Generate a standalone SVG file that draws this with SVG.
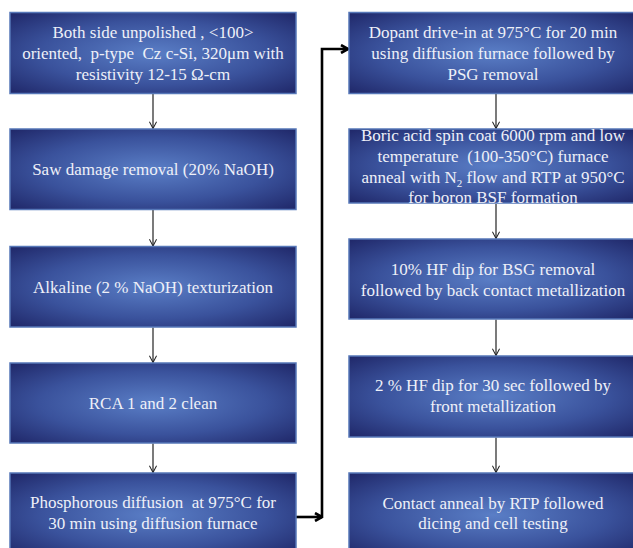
<svg xmlns="http://www.w3.org/2000/svg" width="633" height="548" viewBox="0 0 633 548">
<defs>
<radialGradient id="g" cx="0.5" cy="0.5" r="0.72">
<stop offset="0" stop-color="#5a7ec6"/>
<stop offset="0.55" stop-color="#3a529c"/>
<stop offset="1" stop-color="#1e2566"/>
</radialGradient>
<marker id="a" viewBox="0 0 10 10" refX="9.5" refY="5" markerWidth="8" markerHeight="8" markerUnits="userSpaceOnUse" orient="auto">
<path d="M1,0.5 L9.5,5 L1,9.5" fill="none" stroke="#222" stroke-width="1.3"/>
</marker>
<marker id="b" viewBox="0 0 10 10" refX="9" refY="5" markerWidth="10" markerHeight="10" markerUnits="userSpaceOnUse" orient="auto">
<path d="M2,1 L9,5 L2,9" fill="none" stroke="#000" stroke-width="2.6"/>
</marker>
</defs>
<style>
.box{fill:url(#g);stroke:#5677b8;stroke-width:1.5}
.t{font-family:"Liberation Serif","Times New Roman",serif;font-size:17px;fill:#eef0f8;text-anchor:middle}
.c{fill:none;stroke:#222;stroke-width:1.2}
.k{fill:none;stroke:#000;stroke-width:2.6}
</style>
<rect width="633" height="548" fill="#fff"/>
<g id="connectors">
<line class="c" x1="153" y1="94" x2="153" y2="128.5" marker-end="url(#a)"/>
<line class="c" x1="153" y1="210" x2="153" y2="246" marker-end="url(#a)"/>
<line class="c" x1="153" y1="327.5" x2="153" y2="362.5" marker-end="url(#a)"/>
<line class="c" x1="153" y1="443.5" x2="153" y2="472.5" marker-end="url(#a)"/>
<line class="c" x1="496" y1="94" x2="496" y2="128.5" marker-end="url(#a)"/>
<line class="c" x1="496" y1="204" x2="496" y2="238.5" marker-end="url(#a)"/>
<line class="c" x1="496" y1="319.5" x2="496" y2="355.5" marker-end="url(#a)"/>
<line class="c" x1="496" y1="437.5" x2="496" y2="472.5" marker-end="url(#a)"/>
<line class="k" x1="296" y1="517" x2="322" y2="517" marker-end="url(#b)"/>
<polyline class="k" points="322,518 322,49 348,49" marker-end="url(#b)"/>
</g>
<g id="L1"><rect class="box" x="10" y="12.5" width="286" height="81"/>
<text class="t" x="153" y="38">Both side unpolished , &lt;100&gt;</text>
<text class="t" x="153" y="59" xml:space="preserve">oriented,  p-type  Cz c-Si, 320μm with</text>
<text class="t" x="153" y="80">resistivity 12-15 Ω-cm</text></g>
<g id="L2"><rect class="box" x="10" y="129" width="286" height="80.5"/>
<text class="t" x="153" y="175">Saw damage removal (20% NaOH)</text></g>
<g id="L3"><rect class="box" x="10" y="246.5" width="286" height="80.5"/>
<text class="t" x="153" y="293">Alkaline (2 % NaOH) texturization</text></g>
<g id="L4"><rect class="box" x="10" y="363" width="286" height="80"/>
<text class="t" x="153" y="409">RCA 1 and 2 clean</text></g>
<g id="L5"><rect class="box" x="10" y="473" width="286" height="84"/>
<text class="t" x="153" y="508" xml:space="preserve">Phosphorous diffusion  at 975°C for</text>
<text class="t" x="153" y="529">30 min using diffusion furnace</text></g>
<g id="R1"><rect class="box" x="349" y="12.5" width="288" height="81"/>
<text class="t" x="493" y="38">Dopant drive-in at 975°C for 20 min</text>
<text class="t" x="493" y="59">using diffusion furnace followed by</text>
<text class="t" x="493" y="80">PSG removal</text></g>
<g id="R2"><rect class="box" x="349" y="129" width="288" height="74"/>
<text class="t" x="493" y="141">Boric acid spin coat 6000 rpm and low</text>
<text class="t" x="493" y="162" xml:space="preserve">temperature  (100-350°C) furnace</text>
<text class="t" x="493" y="183">anneal with N<tspan font-size="11" dy="4">2</tspan><tspan dy="-4"> flow and RTP at 950°C</tspan></text>
<text class="t" x="493" y="203">for boron BSF formation</text></g>
<g id="R3"><rect class="box" x="349" y="239" width="288" height="80"/>
<text class="t" x="493" y="275">10% HF dip for BSG removal</text>
<text class="t" x="493" y="296">followed by back contact metallization</text></g>
<g id="R4"><rect class="box" x="349" y="356" width="288" height="81"/>
<text class="t" x="493" y="391">2 % HF dip for 30 sec followed by</text>
<text class="t" x="493" y="412">front metallization</text></g>
<g id="R5"><rect class="box" x="349" y="473" width="288" height="84"/>
<text class="t" x="493" y="509">Contact anneal by RTP followed</text>
<text class="t" x="493" y="529">dicing and cell testing</text></g>
</svg>
